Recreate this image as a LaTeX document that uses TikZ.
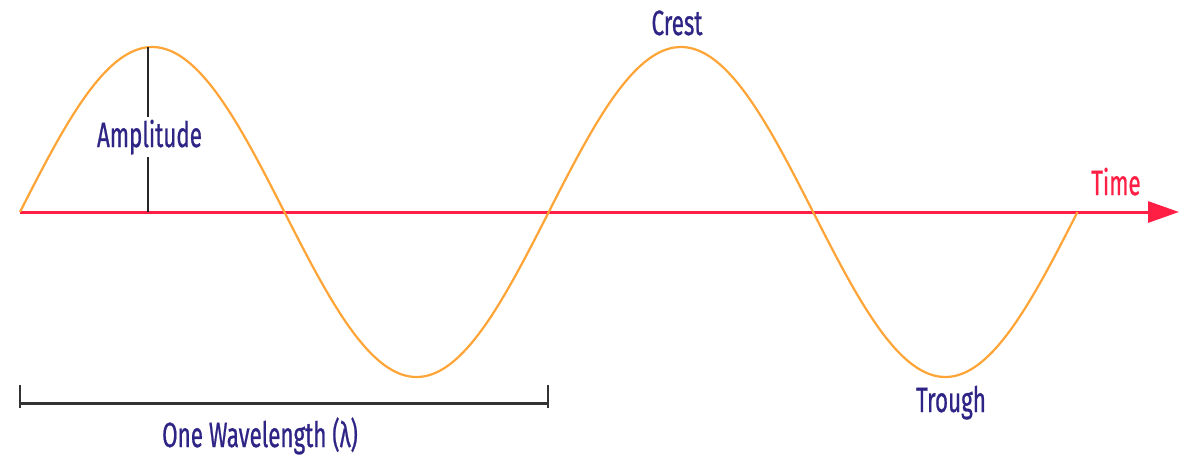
\documentclass[tikz,border=0pt]{standalone}
\usepackage{fontspec}
\setmainfont{Fira Sans}[FakeBold=0.9,AutoFakeBold=0.9]
\usetikzlibrary{arrows.meta}
\definecolor{waveorange}{HTML}{FFA436}
\definecolor{axisred}{HTML}{FF1F45}
\definecolor{labelblue}{HTML}{2E2485}
\definecolor{bracketgray}{HTML}{333333}
\newcommand{\lbl}[1]{\scalebox{0.64}[1]{\fontsize{35}{40}\selectfont\bfseries #1}}
\tikzset{
  wave/.style={draw=waveorange, line width=2.2pt},
  axisline/.style={draw=axisred, line width=3pt, -{Triangle[length=31pt,width=21pt]}},
  ampline/.style={draw=black!85, line width=2pt},
  bracketline/.style={draw=bracketgray, line width=3pt},
  ticks/.style={draw=bracketgray, line width=2pt},
  textlbl/.style={text=labelblue, inner sep=0pt, anchor=base},
}
\begin{document}
\begin{tikzpicture}[x=1pt,y=-1pt]
\useasboundingbox (0,0) rectangle (1181,456);
% axis
\coordinate (axstart) at (20,212);
\coordinate (axend) at (1179,212);
\draw[axisline] (axstart) -- (axend);
\node[textlbl, text=axisred] (time) at (1116,195) {\lbl{Time}};
% wave
\draw[wave] plot[domain=0:1057.5, samples=240, smooth] (\x+20, {212-165*sin(\x/528.75*360)});
% amplitude
\coordinate (amptop) at (148,47);
\coordinate (ampbot) at (148,212);
\draw[ampline] (amptop) -- (ampbot);
\node[textlbl, fill=white, inner ysep=3pt] (amp) at (149.5,147) {\lbl{Amplitude}};
% crest / trough
\node[textlbl] (crest) at (677,35) {\lbl{Crest}};
\node[textlbl] (trough) at (951,412) {\lbl{Trough}};
% wavelength bracket
\coordinate (bl) at (20,403);
\coordinate (br) at (548,403);
\coordinate (blt) at (20,385);
\coordinate (blb) at (20,408);
\coordinate (brt) at (548,385);
\coordinate (brb) at (548,408);
\draw[bracketline] (bl) -- (br);
\draw[ticks] (blt) -- (blb);
\draw[ticks] (brt) -- (brb);
\node[textlbl] (wl) at (260,447) {\lbl{One Wavelength (λ)}};
\end{tikzpicture}
\end{document}
